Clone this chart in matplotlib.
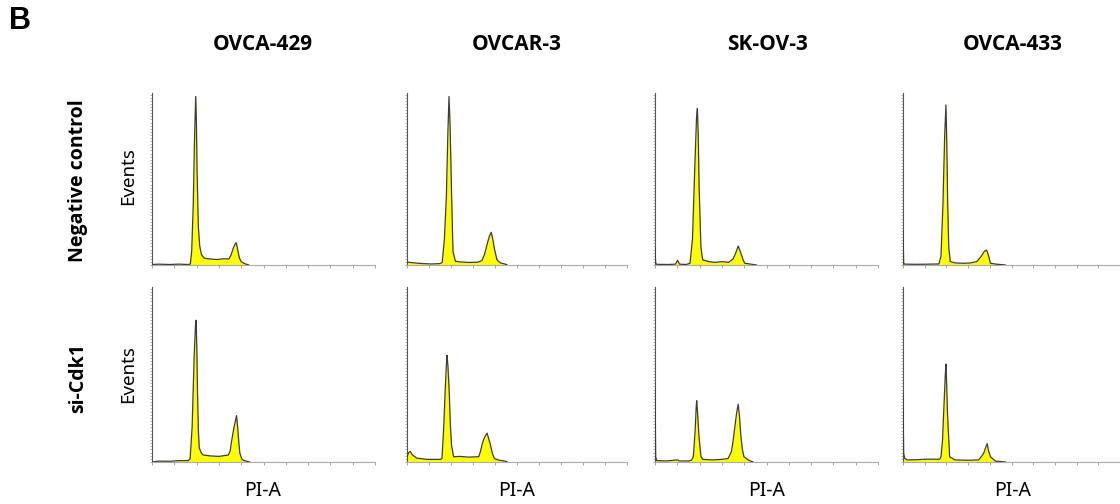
import numpy as np
import matplotlib
matplotlib.use("Agg")
import matplotlib.pyplot as plt

# PI-A channel (0-1000) vs events (% of full scale)
cell_lines = ["OVCA-429", "OVCAR-3", "SK-OV-3", "OVCA-433"]
conditions = ["Negative control", "si-Cdk1"]

# negative control row
nc_429_x = [0, 30, 80, 120, 160, 172, 178, 185, 191, 196, 199, 202, 208, 214, 222, 234, 260, 290, 320, 345, 355, 365, 372, 378, 384, 392, 400, 415, 434]
nc_429_y = [0.3, 0.5, 0.3, 0.5, 0.3, 0.5, 8, 35, 75, 98, 85, 55, 22, 11, 6, 4, 3.5, 3.2, 3.6, 3.5, 6, 10, 12, 13, 9, 4, 2, 0.8, 0]
nc_ovcar3_x = [0, 20, 60, 110, 150, 160, 170, 179, 186, 191, 196, 202, 209, 220, 240, 280, 320, 340, 352, 364, 375, 383, 390, 398, 409, 425, 447, 455]
nc_ovcar3_y = [1.8, 1.4, 0.9, 0.6, 0.8, 1.5, 15, 40, 78, 98, 80, 45, 8, 2.2, 1.8, 1.5, 1.6, 2.5, 6, 12, 17, 19, 15, 9, 3, 1.2, 0.5, 0]
nc_skov3_x = [0, 3, 8, 60, 92, 101, 110, 140, 157, 168, 178, 186, 190, 194, 198, 206, 214, 240, 270, 300, 330, 350, 362, 373, 385, 395, 403, 430, 455]
nc_skov3_y = [10, 1, 0.4, 0.3, 0.5, 2.7, 0.5, 0.3, 1, 15, 55, 85, 91, 75, 45, 10, 3, 2, 1.5, 2, 1.5, 3.5, 7, 11, 7, 3, 1, 0.5, 0]
nc_433_x = [0, 3, 8, 60, 120, 165, 175, 184, 192, 198, 202, 206, 211, 218, 240, 280, 311, 340, 360, 375, 385, 393, 403, 430, 472]
nc_433_y = [20, 1, 0.5, 0.4, 0.5, 0.6, 5, 35, 75, 93, 70, 35, 10, 2, 1.2, 1, 1.2, 2, 5, 8, 8.7, 6, 1, 0.5, 0]

# si-Cdk1 row
si_429_x = [0, 30, 80, 120, 163, 171, 180, 189, 195, 198, 201, 204, 208, 212, 222, 230, 260, 300, 342, 350, 357, 368, 375, 379, 384, 390, 394, 402, 409, 425, 438]
si_429_y = [0, 0.5, 0.4, 0.8, 0.8, 2, 20, 60, 78, 81, 65, 40, 18, 8, 5, 4, 3.5, 3.2, 4, 6, 12, 20, 24, 26.5, 20, 10, 5, 2, 1, 0.4, 0]
si_ovcar3_x = [0, 8, 15, 25, 45, 90, 152, 159, 167, 174, 180, 182, 186, 192, 197, 202, 212, 240, 280, 326, 334, 341, 352, 364, 372, 379, 388, 397, 420, 447, 455]
si_ovcar3_y = [3, 5.5, 6, 4, 2.2, 1.5, 1.5, 2, 20, 42, 58, 61, 55, 40, 22, 10, 3, 3.2, 2.8, 3, 6, 10, 14, 16.5, 13, 10, 5, 2, 1, 0.5, 0]
si_skov3_x = [0, 3, 8, 50, 101, 110, 150, 163, 172, 180, 185, 187, 191, 197, 206, 215, 260, 300, 328, 343, 350, 358, 366, 373, 379, 385, 392, 399, 420, 440]
si_skov3_y = [42, 3, 0.8, 0.6, 1.2, 0.6, 0.6, 1, 3, 18, 32, 35, 28, 15, 3, 1.5, 1.2, 1.5, 2, 6, 12, 20, 28, 33, 26, 15, 7, 3, 1, 0]
si_433_x = [0, 3, 8, 20, 60, 110, 169, 175, 182, 188, 195, 198, 201, 205, 208, 215, 240, 300, 349, 360, 372, 380, 388, 395, 403, 426, 472]
si_433_y = [39, 5, 2, 1.2, 1.3, 1.6, 1.6, 3, 12, 30, 50, 56, 45, 28, 20, 3, 1.2, 1, 1.2, 3, 5, 8, 10.5, 6, 3, 0.5, 0]

histograms = [
    [(nc_429_x, nc_429_y), (nc_ovcar3_x, nc_ovcar3_y), (nc_skov3_x, nc_skov3_y), (nc_433_x, nc_433_y)],
    [(si_429_x, si_429_y), (si_ovcar3_x, si_ovcar3_y), (si_skov3_x, si_skov3_y), (si_433_x, si_433_y)],
]

W, H = 1120, 504
fig = plt.figure(figsize=(W / 100, H / 100), dpi=100)

col_px = [(152, 223), (407, 220), (655, 223), (903, 217)]
row_px = [(93, 265), (287, 462)]
title_x = [263, 517, 767, 1013]

for r in range(2):
    top, bot = row_px[r]
    for c in range(4):
        left, width = col_px[c]
        ax = fig.add_axes([left / W, 1 - bot / H, width / W, (bot - top) / H])
        x, y = histograms[r][c]
        ax.fill_between(x, y, color="#ffff00", lw=0, zorder=2)
        ax.plot(x, y, color="#3c3c3c", lw=0.9, zorder=3)
        ax.set_xlim(0, 1000)
        ax.set_ylim(0, 100)
        for s in ["top", "right"]:
            ax.spines[s].set_visible(False)
        ax.spines["left"].set_color("#555555")
        ax.spines["left"].set_linewidth(0.8)
        ax.spines["bottom"].set_color("#aaaaaa")
        ax.spines["bottom"].set_linewidth(0.8)
        ax.set_xticks(np.arange(0, 1001, 100))
        ax.set_yticks(np.arange(0, 100.1, 1.8))
        ax.tick_params(axis="x", length=2, width=0.6, color="#999999", labelbottom=False)
        ax.tick_params(axis="y", length=1.5, width=0.4, color="#777777", labelleft=False)
        ax.patch.set_alpha(0)

bold_font = ["Open Sans", "DejaVu Sans"]

# column titles
for c in range(4):
    fig.text(title_x[c] / W, 1 - 44 / H, cell_lines[c], ha="center", va="center",
             fontsize=15, fontweight="bold", family=bold_font)
    fig.text(title_x[c] / W, 1 - 491 / H, "PI-A", ha="center", va="center",
             fontsize=14, family="Noto Sans")

# row labels and y labels
row_cy = [181, 378]
events_cy = [176, 374]
for r in range(2):
    fig.text(78 / W, 1 - row_cy[r] / H, conditions[r], ha="center", va="center",
             rotation=90, fontsize=14, fontweight="bold", family=bold_font)
    fig.text(128 / W, 1 - events_cy[r] / H, "Events", ha="center", va="center",
             rotation=90, fontsize=13.5, family="Noto Sans")

fig.text(9 / W, 1 - 21 / H, "B", ha="left", va="center", fontsize=22,
         fontweight="bold", family="Liberation Sans")

fig.savefig("out.png", dpi=100)
